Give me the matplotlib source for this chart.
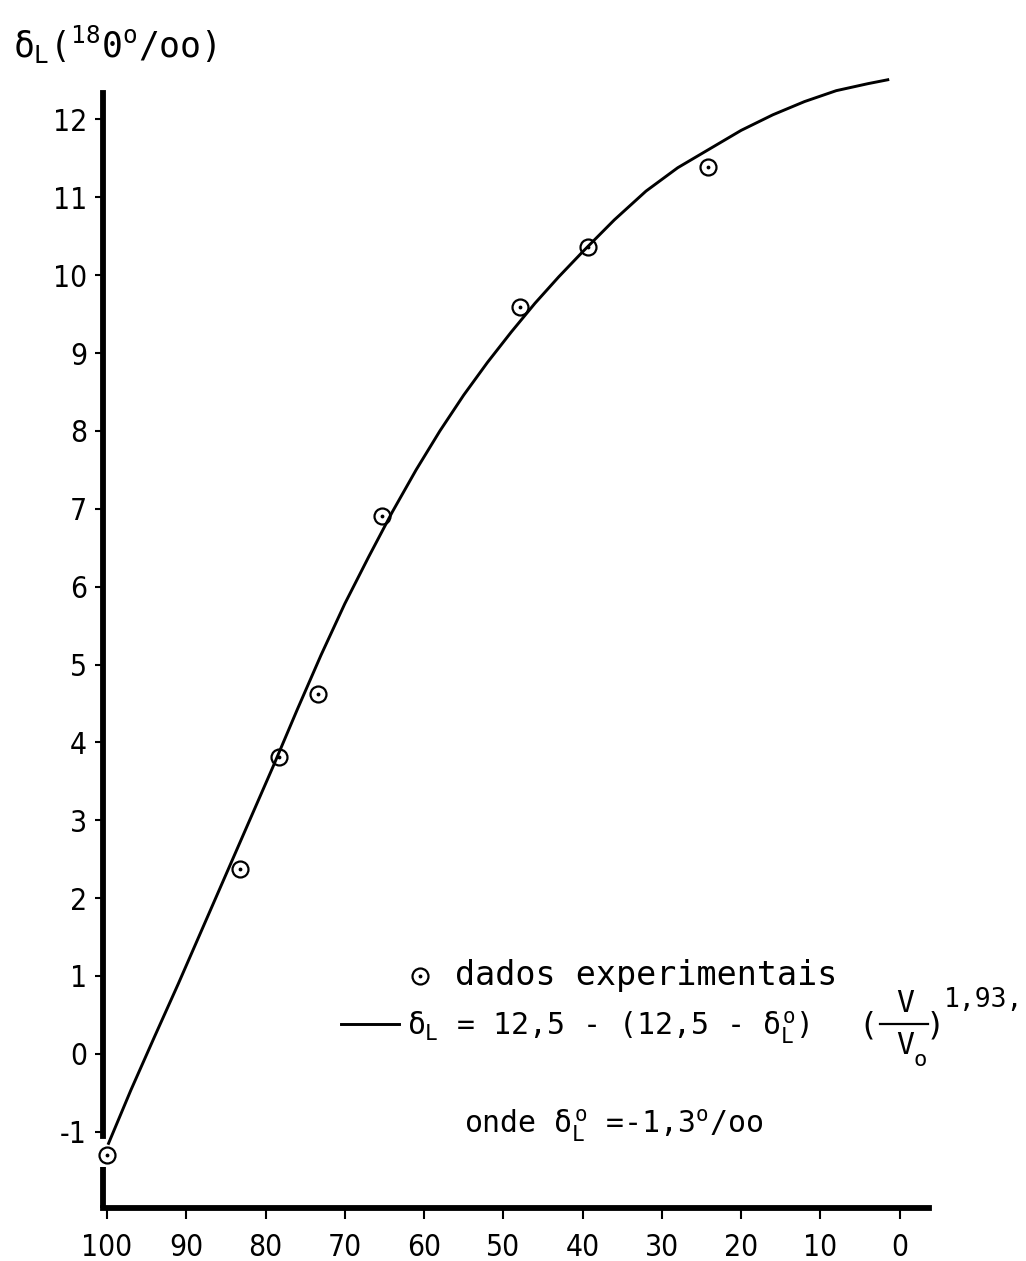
import matplotlib.pyplot as plt
from matplotlib.lines import Line2D

# experimental points: remaining volume V/V0 (%) and delta_L (o/oo)
vol_pts = [100.0, 83.2, 78.3, 73.4, 65.3, 47.9, 39.3, 24.2]
delta_pts = [-1.3, 2.37, 3.81, 4.62, 6.91, 9.59, 10.36, 11.39]

# fitted curve, traced along its length
vol_fit = [99.8, 97.0, 94.0, 91.0, 88.0, 85.0, 82.0, 79.0, 76.0, 73.0, 70.0, 67.0,
           64.0, 61.0, 58.0, 55.0, 52.0, 49.0, 46.0, 43.0, 40.0, 36.0, 32.0, 28.0,
           24.0, 20.0, 16.0, 12.0, 8.0, 4.0, 1.5]
delta_fit = [-1.15, -0.47, 0.22, 0.90, 1.60, 2.30, 3.00, 3.70, 4.42, 5.12, 5.78, 6.38,
             6.96, 7.50, 8.00, 8.46, 8.88, 9.27, 9.64, 9.98, 10.30, 10.71, 11.08, 11.38,
             11.62, 11.86, 12.06, 12.23, 12.37, 12.46, 12.51]

x_ticks = [100, 90, 80, 70, 60, 50, 40, 30, 20, 10, 0]
y_ticks = [-1, 0, 1, 2, 3, 4, 5, 6, 7, 8, 9, 10, 11, 12]

plt.rcParams['font.family'] = ['DejaVu Sans']
plt.rcParams['mathtext.fontset'] = 'custom'
plt.rcParams['mathtext.rm'] = 'DejaVu Sans Mono'
plt.rcParams['mathtext.it'] = 'DejaVu Sans Mono'
plt.rcParams['mathtext.bf'] = 'DejaVu Sans Mono'

MONO = ['DejaVu Sans Mono', 'DejaVu Sans']
W, H = 1026, 1261

fig = plt.figure(figsize=(W / 100, H / 100), dpi=100)
ax = fig.add_axes([103 / W, 53 / H, 826 / W, 1115 / H])

ax.set_xlim(100.5, -3.7)
ax.set_ylim(-1.98, 12.34)

# curve and points
ax.plot(vol_fit, delta_fit, color='black', lw=2.1, zorder=3, clip_on=False)
ax.plot(vol_pts, delta_pts, 'o', ms=11.5, mfc='none', mec='black', mew=1.6,
        zorder=4, clip_on=False)
ax.plot(vol_pts, delta_pts, '.', ms=3.5, color='black', zorder=4, clip_on=False)

# axes: thick left and bottom lines, left one broken round the first point
for side in ['top', 'right']:
    ax.spines[side].set_visible(False)
for side in ['left', 'bottom']:
    ax.spines[side].set_linewidth(4.2)
ax.spines['left'].set_bounds(-1.05, 12.34)
ax.plot([0, 0], [-1.98, -1.45], transform=ax.get_yaxis_transform(),
        color='black', lw=4.2, solid_capstyle='butt', clip_on=False)

ax.set_xticks(x_ticks)
ax.set_xticklabels([str(v) for v in x_ticks])
ax.set_yticks(y_ticks)
ax.set_yticklabels([str(v) for v in y_ticks])
ax.tick_params(axis='y', direction='out', length=6, width=1.5, pad=5.5)
ax.tick_params(axis='x', direction='out', length=8, width=1.5, pad=10)
for lab in ax.get_xticklabels() + ax.get_yticklabels():
    lab.set_fontsize(21.5)
    lab.set_fontstretch('condensed')

# axis title
fig.text(13 / W, 1 - 45 / H, r'$\delta_L$(${}^{18}$0$^o$/oo)',
         fontsize=25, family=MONO, va='center', ha='left')

# key
ax.plot([60.5], [1.0], 'o', ms=11.5, mfc='none', mec='black', mew=1.6, clip_on=False)
ax.plot([60.5], [1.0], '.', ms=3.5, color='black', clip_on=False)
ax.text(56.1, 1.0, 'dados experimentais', fontsize=24, family=MONO,
        va='center', ha='left')
ax.plot([70.5, 63.2], [0.38, 0.38], color='black', lw=2.1, clip_on=False)
ax.text(62.2, 0.33, r'$\delta_L$ = 12,5 - (12,5 - $\delta_L^o$)', fontsize=21.5,
        family=MONO, va='center', ha='left')
ax.text(55.0, -0.92, r'onde $\delta_L^o$ =-1,3$^o$/oo', fontsize=21.5, family=MONO,
        va='center', ha='left')


def px_text(x, y, s, size, **kw):
    fig.text(x / W, 1 - y / H, s, fontsize=size, family=MONO,
             ha=kw.pop('ha', 'center'), va=kw.pop('va', 'center'), **kw)


# (V / Vo)^1,93 written out by hand
px_text(868, 1026, '(', 23)
px_text(905, 1003, 'V', 21.5)
fig.add_artist(Line2D([880 / W, 928 / W], [1 - 1024 / H, 1 - 1024 / H],
                      color='black', lw=1.6))
px_text(905, 1046, 'V', 21.5)
px_text(920, 1060, 'o', 16)
px_text(935, 1026, ')', 23)
px_text(944, 1000, '1,93,', 19, ha='left')

fig.savefig('out.png', dpi=100, facecolor='white')
